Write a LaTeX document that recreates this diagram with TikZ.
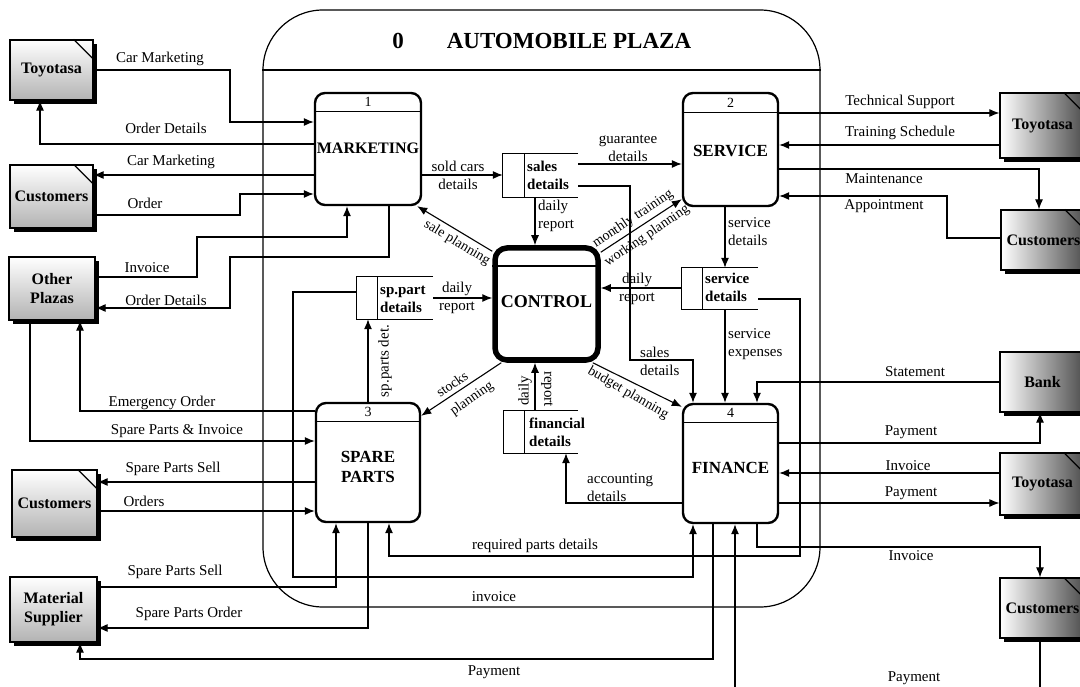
\documentclass[tikz,border=0pt]{standalone}
\usepackage{fontspec}
\setmainfont{Liberation Serif}
\usetikzlibrary{arrows.meta,shadows,calc}
\begin{document}
\begin{tikzpicture}[x=1pt,y=-1pt,
 flow/.style={line width=1.1pt, -{Latex[length=10pt,width=8pt]}},
 lbl/.style={font=\fontsize{15}{18}\selectfont, inner sep=0pt},
 lbl2/.style={lbl, align=center},
 lbll/.style={lbl, align=left, anchor=west},
 ent/.style={draw, line width=1.2pt, inner sep=1pt, align=center,
   font=\bfseries\fontsize{16}{19}\selectfont,
   drop shadow={shadow xshift=4pt, shadow yshift=-4pt, fill=black, opacity=1}},
 entL/.style={ent, top color=white, bottom color=black!30},
 entR/.style={ent, left color=white, right color=black!70},
 ear/.style={line width=1.2pt},
 proc/.style={draw, line width=2.4pt, rounded corners=10pt, fill=white, inner sep=0pt},
 ctl/.style={draw, line width=5.5pt, rounded corners=12pt, fill=white, inner sep=0pt},
 bar/.style={line width=1pt},
 ptitle/.style={font=\bfseries\fontsize{17}{20}\selectfont, align=center, inner sep=0pt},
 num/.style={font=\fontsize{14}{16}\selectfont, inner sep=0pt},
 store/.style={inner sep=0pt},
 sline/.style={line width=1.2pt},
 stxt/.style={font=\bfseries\fontsize{15}{18}\selectfont, align=left, anchor=west, inner sep=0pt},
 rlbl/.style={font=\fontsize{14}{16}\selectfont, inner sep=0pt},
]
\useasboundingbox (0,0) rectangle (1080,687);
\clip (0,0) rectangle (1080,687);
\fill[white] (0,0) rectangle (1080,687);

% outer plaza
\node[draw, line width=1.2pt, rounded corners=60pt, minimum width=557pt, minimum height=597pt, inner sep=0pt] (plaza) at (541.5,308.5) {};
\draw[line width=1.1pt] (plaza.west |- 0,70) -- (plaza.east |- 0,70);
\node[font=\bfseries\fontsize{23}{26}\selectfont, inner sep=0pt] (zero) at (398,41) {0};
\node[font=\bfseries\fontsize{23}{26}\selectfont, inner sep=0pt] (title) at (569,41) {AUTOMOBILE PLAZA};

% external entities left
\node[entL, minimum width=83pt, minimum height=60pt] (tyL) at (51.5,70) {Toyotasa};
\draw[ear] ([xshift=-20pt]tyL.north east) -- ([yshift=-20pt]tyL.north east);
\node[entL, minimum width=83pt, minimum height=63pt] (cuL1) at (51.5,196.5) {Customers};
\draw[ear] ([xshift=-20pt]cuL1.north east) -- ([yshift=-20pt]cuL1.north east);
\node[entL, minimum width=86pt, minimum height=63pt] (op) at (52,288.5) {Other\\Plazas};
\node[entL, minimum width=85pt, minimum height=67pt] (cuL2) at (54.5,503.5) {Customers};
\draw[ear] ([xshift=-20pt]cuL2.north east) -- ([yshift=-20pt]cuL2.north east);
\node[entL, minimum width=87pt, minimum height=65pt] (ms) at (53.5,609.5) {Material\\Supplier};

% external entities right
\node[entR, minimum width=85pt, minimum height=65pt] (tyR1) at (1042.5,125.5) {Toyotasa};
\draw[ear] ([xshift=-22pt]tyR1.north east) -- ([yshift=-22pt]tyR1.north east);
\node[entR, minimum width=85pt, minimum height=60pt] (cuR1) at (1043.5,240) {Customers};
\draw[ear] ([xshift=-22pt]cuR1.north east) -- ([yshift=-22pt]cuR1.north east);
\node[entR, minimum width=85pt, minimum height=60pt] (bank) at (1042.5,382) {Bank};
\node[entR, minimum width=85pt, minimum height=62pt] (tyR2) at (1042.5,484) {Toyotasa};
\draw[ear] ([xshift=-22pt]tyR2.north east) -- ([yshift=-22pt]tyR2.north east);
\node[entR, minimum width=85pt, minimum height=60pt] (cuR2) at (1042.5,608) {Customers};
\draw[ear] ([xshift=-22pt]cuR2.north east) -- ([yshift=-22pt]cuR2.north east);

% processes
\node[proc, minimum width=106pt, minimum height=112pt] (mk) at (368,149) {};
\draw[bar] (mk.west |- 0,112) -- (mk.east |- 0,112);
\node[num] (mkn) at (368,102) {1};
\node[ptitle, font=\bfseries\fontsize{16}{19}\selectfont] (mkt) at (368,148) {MARKETING};

\node[proc, minimum width=95pt, minimum height=113pt] (sv) at (730.5,149.5) {};
\draw[bar] (sv.west |- 0,113) -- (sv.east |- 0,113);
\node[num] (svn) at (730.5,103) {2};
\node[ptitle] (svt) at (730.5,151) {SERVICE};

\node[ctl, minimum width=103pt, minimum height=112pt] (ct) at (546.5,304) {};
\draw[line width=2.5pt] (ct.west |- 0,266) -- (ct.east |- 0,266);
\node[ptitle, font=\bfseries\fontsize{18}{20}\selectfont] (ctt) at (546.5,302) {CONTROL};

\node[proc, minimum width=104pt, minimum height=119pt] (sp) at (368,462.5) {};
\draw[bar] (sp.west |- 0,421) -- (sp.east |- 0,421);
\node[num] (spn) at (368,412) {3};
\node[ptitle] (spt) at (368,467) {SPARE\\PARTS};

\node[proc, minimum width=95pt, minimum height=119pt] (fn) at (730.5,463.5) {};
\draw[bar] (fn.west |- 0,422) -- (fn.east |- 0,422);
\node[num] (fnn) at (730.5,413) {4};
\node[ptitle] (fnt) at (730.5,468) {FINANCE};

% data stores
\node[store, minimum width=75pt, minimum height=43pt] (sls) at (540.5,175.5) {};
\draw[sline] (sls.north east) -- (sls.north west) -- (sls.south west) -- (sls.south east);
\draw[sline] ([xshift=22pt]sls.north west) -- ([xshift=22pt]sls.south west);
\node[stxt] (slst) at (527,175.5) {sales\\details};

\node[store, minimum width=76pt, minimum height=42pt] (sps) at (395,298) {};
\draw[sline] (sps.north east) -- (sps.north west) -- (sps.south west) -- (sps.south east);
\draw[sline] ([xshift=21pt]sps.north west) -- ([xshift=21pt]sps.south west);
\node[stxt] (spst) at (380,299) {sp.part\\details};

\node[store, minimum width=76pt, minimum height=41pt] (svs) at (720,288.5) {};
\draw[sline] (svs.north east) -- (svs.north west) -- (svs.south west) -- (svs.south east);
\draw[sline] ([xshift=21pt]svs.north west) -- ([xshift=21pt]svs.south west);
\node[stxt] (svst) at (705,287.5) {service\\details};

\node[store, minimum width=74pt, minimum height=42pt] (fns) at (541,432) {};
\draw[sline] (fns.north east) -- (fns.north west) -- (fns.south west) -- (fns.south east);
\draw[sline] ([xshift=21pt]fns.north west) -- ([xshift=21pt]fns.south west);
\node[stxt] (fnst) at (529,432) {financial\\details};

% flows left
\draw[flow] (tyL.east) -- (230,70) |- (mk.west |- 0,122);
\draw[flow] (mk.west |- 0,144) -- (40,144) -- (tyL.south -| 40,0);
\draw[flow] (mk.west |- 0,175) -- (cuL1.east |- 0,175);
\draw[flow] (cuL1.east |- 0,215) -- (240,215) |- (mk.west |- 0,194);
\draw[flow] (op.east |- 0,277) -- (197,277) |- (347,237) -- (mk.south -| 347,0);
\draw[flow] (mk.south -| 389,0) -- (389,257) -| (230,308) -- (op.east |- 0,308);
\draw[flow] (sp.west |- 0,411) -- (80,411) -- (op.south -| 80,0);
\draw[flow] (op.south -| 30,0) |- (sp.west |- 0,441);
\draw[flow] (sp.west |- 0,482) -- (cuL2.east |- 0,482);
\draw[flow] (cuL2.east |- 0,511) -- (sp.west |- 0,511);
\draw[flow] (ms.east |- 0,587) -| (sp.south -| 336,0);
\draw[flow] (sp.south -| 368,0) |- (ms.east |- 0,628);
\draw[flow] (fn.south -| 713,0) |- (80,659) -- (ms.south -| 80,0);
\draw[flow] (svs.east |- 0,299) -- (800,299) |- (389,556) -- (sp.south -| 389,0);
\draw[flow] (sps.west |- 0,292) -- (293,292) |- (693,577) -- (fn.south -| 693,0);

% flows right
\draw[flow] (fn.south -| 757,0) |- (1040,547) -- (cuR2.north -| 1040,0);
\draw[flow] (cuR2.south -| 1040,0) -- (1040,700) -| (fn.south -| 735,0);
\draw[flow] (sv.east |- 0,113) -- (tyR1.west |- 0,113);
\draw[flow] (tyR1.west |- 0,145) -- (sv.east |- 0,145);
\draw[flow] (sv.east |- 0,169) -| (cuR1.north -| 1039,0);
\draw[flow] (cuR1.west |- 0,238) -- (947,238) |- (sv.east |- 0,196);
\draw[flow] (bank.west) -| (fn.north -| 757,0);
\draw[flow] (fn.east |- 0,443) -| (bank.south -| 1040,0);
\draw[flow] (tyR2.west |- 0,473) -- (fn.east |- 0,473);
\draw[flow] (fn.east |- 0,503) -- (tyR2.west |- 0,503);

% internal flows
\draw[flow] (mk.east |- 0,175) -- (sls.west |- 0,175);
\draw[flow] (sls.east |- 0,164) -- (sv.west |- 0,164);
\draw[flow] (sls.east |- 0,186) -- (630,186) |- (693,360) -- (fn.north -| 693,0);
\draw[flow] (sls.south -| 535,0) -- (ct.north -| 535,0);
\draw[flow] ([yshift=-6pt]ct.north west) -- ([xshift=-5pt]mk.south east);
\draw[flow] ([yshift=-7pt]ct.north east) -- ([yshift=8pt]sv.south west);
\draw[flow] (svs.west |- 0,288) -- (ct.east |- 0,288);
\draw[flow] (sv.south -| 725,0) -- (svs.north -| 725,0);
\draw[flow] (svs.south -| 725,0) -- (fn.north -| 725,0);
\draw[flow] ([xshift=-8pt]ct.south east) -- ([yshift=-4pt]fn.north west);
\draw[flow] ([xshift=9pt]ct.south west) -- ([yshift=-14pt]sp.north east);
\draw[flow] (fns.north -| 535,0) -- (ct.south -| 535,0);
\draw[flow] (fn.west |- 0,503) -| (fns.south -| 566,0);
\draw[flow] (sps.east |- 0,298) -- (ct.west |- 0,298);
\draw[flow] (sp.north -| 368,0) -- (sps.south -| 368,0);

% labels left
\node[lbl] (l1) at (160,59) {Car Marketing};
\node[lbl] (l2) at (166,128) {Order Details};
\node[lbl] (l3) at (171,162) {Car Marketing};
\node[lbl] (l4) at (145,203) {Order};
\node[lbl] (l5) at (147,268) {Invoice};
\node[lbl] (l6) at (166,300) {Order Details};
\node[lbl] (l7) at (162,403) {Emergency Order};
\node[lbl] (l8) at (177,431) {Spare Parts \& Invoice};
\node[lbl] (l9) at (173,469) {Spare Parts Sell};
\node[lbl] (l10) at (144,501) {Orders};
\node[lbl] (l11) at (175,572) {Spare Parts Sell};
\node[lbl] (l12) at (189,614) {Spare Parts Order};
\node[lbl] (l13) at (494,672) {Payment};
\node[lbl] (l14) at (535,546) {required parts details};
\node[lbl] (l15) at (494,597) {invoice};
% labels right
\node[lbl] (l16) at (911,556) {Invoice};
\node[lbl] (l17) at (914,678) {Payment};
\node[lbl] (l18) at (900,102) {Technical Support};
\node[lbl] (l19) at (900,133) {Training Schedule};
\node[lbl] (l20) at (884,179) {Maintenance};
\node[lbl] (l21) at (884,206) {Appointment};
\node[lbl] (l22) at (915,372) {Statement};
\node[lbl] (l23) at (911,432) {Payment};
\node[lbl] (l24) at (908,466) {Invoice};
\node[lbl] (l25) at (911,493) {Payment};
% labels internal
\node[lbl2] (l26) at (458,175) {sold cars\\details};
\node[lbl2] (l27) at (628,148) {guarantee\\details};
\node[lbll] (l28) at (640,361) {sales\\details};
\node[lbll] (l29) at (538,216) {daily\\report};
\node[rlbl, rotate=-31] (l30) at (457,243) {sale planning};
\node[rlbl, rotate=34] (l31a) at (633,219) {monthly training};
\node[rlbl, rotate=34] (l31b) at (647,236) {working planning};
\node[lbl2] (l32) at (637,289) {daily\\report};
\node[lbll] (l33) at (728,232) {service\\details};
\node[lbll] (l34) at (728,344) {service\\expenses};
\node[rlbl, rotate=-30] (l35) at (628,393) {budget planning};
\node[rlbl, rotate=35] (l36a) at (452,384) {stocks};
\node[rlbl, rotate=35] (l36b) at (472,399) {planning};
\node[lbl, rotate=90] (l37a) at (525,391) {daily};
\node[lbl, rotate=-90] (l37b) at (547,389) {report};
\node[lbll] (l38) at (587,488) {accounting\\details};
\node[lbl2] (l39) at (457,298) {daily\\report};
\node[lbl, rotate=90] (l40) at (385,361) {sp.parts det.};
\end{tikzpicture}
\end{document}
